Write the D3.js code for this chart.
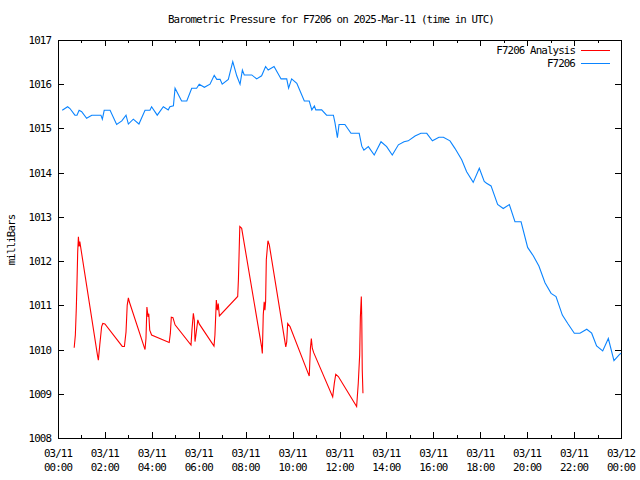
<!DOCTYPE html>
<html><head><meta charset="utf-8">
<script src="https://cdn.jsdelivr.net/npm/d3@7"></script>
<style>
html,body{margin:0;padding:0;background:#fff;}
text{font-family:"DejaVu Sans Mono","Liberation Mono",monospace;font-size:10.8px;letter-spacing:-0.88px;fill:#000;}
</style></head><body>
<svg id="chart" width="640" height="480"></svg>
<script>
const titleText = "Barometric Pressure for F7206 on 2025-Mar-11 (time in UTC)";
const yLabel = "milliBars";
const seriesNames = ["F7206 Analysis", "F7206"];
const seriesColors = ["#ff0000", "#0a84ff"];

// hours since 2025-03-11 00:00 UTC
const stationHours = [0.18,0.41,0.51,0.72,0.81,0.90,1.01,1.22,1.44,1.83,1.89,1.97,2.22,2.50,2.72,2.90,3.00,3.21,3.45,3.71,3.92,3.99,4.23,4.49,4.70,4.77,4.92,4.99,5.27,5.49,5.70,5.91,6.02,6.24,6.48,6.66,6.77,6.91,7.00,7.26,7.45,7.62,7.76,7.86,7.94,8.26,8.47,8.68,8.85,8.96,9.21,9.51,9.75,9.83,9.96,10.18,10.27,10.50,10.71,10.82,10.93,10.99,11.24,11.45,11.74,11.81,11.91,11.98,12.23,12.49,12.84,12.95,13.04,13.23,13.48,13.77,14.01,14.25,14.51,14.75,14.93,15.22,15.47,15.72,15.96,16.24,16.43,16.71,16.92,17.21,17.42,17.70,17.96,18.17,18.27,18.46,18.74,18.98,19.24,19.48,19.74,20.02,20.26,20.50,20.76,21.02,21.23,21.50,21.73,22.01,22.25,22.54,22.75,22.96,23.22,23.46,23.70,23.92,24.0];
const stationValues = [1015.41,1015.49,1015.45,1015.30,1015.30,1015.41,1015.38,1015.23,1015.30,1015.30,1015.21,1015.41,1015.41,1015.09,1015.17,1015.30,1015.10,1015.21,1015.10,1015.41,1015.41,1015.49,1015.30,1015.49,1015.42,1015.49,1015.51,1015.91,1015.62,1015.62,1015.91,1015.91,1016.00,1015.93,1016.00,1016.20,1016.11,1016.11,1016.00,1016.11,1016.51,1016.19,1016.00,1016.32,1016.21,1016.21,1016.12,1016.19,1016.40,1016.32,1016.40,1016.12,1016.12,1015.91,1016.12,1016.02,1015.91,1015.62,1015.62,1015.42,1015.51,1015.42,1015.42,1015.30,1015.30,1015.12,1014.79,1015.09,1015.09,1014.89,1014.89,1014.60,1014.51,1014.59,1014.40,1014.70,1014.59,1014.40,1014.63,1014.70,1014.72,1014.83,1014.89,1014.89,1014.72,1014.80,1014.80,1014.72,1014.55,1014.29,1014.02,1013.78,1014.10,1013.80,1013.76,1013.70,1013.28,1013.19,1013.28,1012.89,1012.89,1012.31,1012.12,1011.89,1011.51,1011.27,1011.20,1010.78,1010.59,1010.37,1010.37,1010.46,1010.37,1010.08,1009.97,1010.25,1009.75,1009.88,1009.92];

const analysisHours = [0.69,0.74,0.78,0.81,0.84,0.87,0.90,0.93,1.68,1.72,1.78,1.86,1.91,2.00,2.74,2.83,2.90,2.95,3.00,3.04,3.71,3.75,3.79,3.84,3.87,3.91,3.99,4.74,4.79,4.83,4.90,4.99,5.67,5.71,5.77,5.81,5.84,5.88,5.96,6.02,6.65,6.69,6.75,6.79,6.83,6.88,7.66,7.69,7.75,7.83,8.68,8.71,8.75,8.79,8.82,8.85,8.88,8.95,9.01,9.71,9.75,9.79,9.89,10.71,10.76,10.80,10.84,10.90,11.71,11.78,11.84,11.95,12.73,12.80,12.86,12.89,12.93,12.95,12.97,13.00];
const analysisValues = [1010.04,1010.33,1010.93,1011.53,1012.21,1012.55,1012.33,1012.44,1009.88,1009.76,1010.10,1010.52,1010.59,1010.58,1010.07,1010.07,1010.40,1011.00,1011.17,1011.08,1010.00,1010.25,1010.96,1010.74,1010.81,1010.44,1010.33,1010.16,1010.37,1010.73,1010.72,1010.56,1010.10,1010.44,1010.82,1010.67,1010.18,1010.33,1010.67,1010.58,1010.08,1010.33,1011.12,1010.89,1011.04,1010.76,1011.20,1011.57,1012.78,1012.74,1010.06,1009.91,1010.78,1011.08,1010.89,1011.08,1012.03,1012.46,1012.36,1010.06,1010.17,1010.59,1010.52,1009.40,1010.03,1010.25,1010.03,1009.93,1008.93,1009.24,1009.44,1009.39,1008.71,1009.24,1009.88,1010.74,1011.20,1010.67,1009.54,1009.01];

const xMajorTicks = [0,2,4,6,8,10,12,14,16,18,20,22,24];
const xTickDates = ["03/11","03/11","03/11","03/11","03/11","03/11","03/11","03/11","03/11","03/11","03/11","03/11","03/12"];
const xTickTimes = ["00:00","02:00","04:00","06:00","08:00","10:00","12:00","14:00","16:00","18:00","20:00","22:00","00:00"];
const yTicks = [1008,1009,1010,1011,1012,1013,1014,1015,1016,1017];

const L = 58, R = 621, T = 40, B = 438;
const svg = d3.select("#chart");
const x = d3.scaleLinear().domain([0, 24]).range([L, R]);
const y = d3.scaleLinear().domain([1008, 1017]).range([B, T]);

// title
svg.append("text").attr("x", 331).attr("y", 23).attr("text-anchor", "middle").text(titleText);
// y label
svg.append("text").attr("transform", "translate(15,240) rotate(-90)").attr("text-anchor", "middle").text(yLabel);

const g = svg.append("g").attr("shape-rendering", "crispEdges");
const minorHours = d3.range(1, 24, 2);
const tickG = g.append("g").attr("stroke", "#000").attr("stroke-width", 1);
minorHours.forEach(h => {
  const xx = Math.round(x(h)) + 0.5;
  tickG.append("line").attr("x1", xx).attr("x2", xx).attr("y1", B).attr("y2", B - 3);
  tickG.append("line").attr("x1", xx).attr("x2", xx).attr("y1", T).attr("y2", T + 3);
});
xMajorTicks.forEach(h => {
  const xx = Math.round(x(h)) + 0.5;
  tickG.append("line").attr("x1", xx).attr("x2", xx).attr("y1", B).attr("y2", B - 6);
  tickG.append("line").attr("x1", xx).attr("x2", xx).attr("y1", T).attr("y2", T + 6);
});
yTicks.forEach(v => {
  const yy = Math.round(y(v)) + 0.5;
  tickG.append("line").attr("x1", L).attr("x2", L + 6).attr("y1", yy).attr("y2", yy);
  tickG.append("line").attr("x1", R).attr("x2", R - 6).attr("y1", yy).attr("y2", yy);
});
g.append("rect").attr("x", L + 0.5).attr("y", T + 0.5).attr("width", R - L).attr("height", B - T)
  .attr("fill", "none").attr("stroke", "#000");

xMajorTicks.forEach((h, i) => {
  svg.append("text").attr("x", x(h)).attr("y", B + 19).attr("text-anchor", "middle").text(xTickDates[i]);
  svg.append("text").attr("x", x(h)).attr("y", B + 33).attr("text-anchor", "middle").text(xTickTimes[i]);
});
yTicks.forEach(v => {
  svg.append("text").attr("x", L - 7).attr("y", y(v) + 4).attr("text-anchor", "end").text(v);
});

const line = d3.line().x(d => x(d[0])).y(d => y(d[1]));
const analysisData = analysisHours.map((h, i) => [h, analysisValues[i]]);
const stationData = stationHours.map((h, i) => [h, stationValues[i]]);
svg.append("path").datum(analysisData).attr("d", line).attr("fill", "none")
  .attr("stroke", seriesColors[0]).attr("stroke-width", 1.1);
svg.append("path").datum(stationData).attr("d", line).attr("fill", "none")
  .attr("stroke", seriesColors[1]).attr("stroke-width", 1.1);

seriesNames.forEach((n, i) => {
  const yy = 50 + i * 13;
  svg.append("text").attr("x", 575).attr("y", yy + 4).attr("text-anchor", "end").text(n);
  g.append("line").attr("x1", 581).attr("x2", 610).attr("y1", yy + 0.5).attr("y2", yy + 0.5)
    .attr("stroke", seriesColors[i]).attr("stroke-width", 1);
});
</script>
</body></html>
